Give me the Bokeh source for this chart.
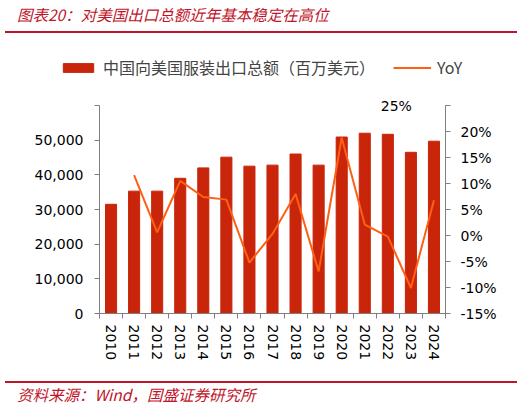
from bokeh.plotting import figure
from bokeh.layouts import column
from bokeh.models import (Range1d, LinearAxis, FixedTicker, NumeralTickFormatter,
                          PrintfTickFormatter, Legend, LegendItem, Label, Div)
from bokeh.embed import file_html
from bokeh.resources import INLINE

years = ["2010", "2011", "2012", "2013", "2014", "2015", "2016", "2017",
         "2018", "2019", "2020", "2021", "2022", "2023", "2024"]
# 中国向美国服装出口总额（百万美元）
export_total = [31500, 35300, 35300, 39000, 42000, 45100, 42500, 42800,
                46000, 42800, 50900, 52000, 51700, 46500, 49700]
# YoY (%), from 2011
yoy = [11.6, 0.6, 10.5, 7.4, 6.9, -5.2, 0.3, 8.0, -6.9, 18.8, 2.1, -0.2, -10.1, 6.8]

left_ticks = [0, 10000, 20000, 30000, 40000, 50000, 60000]
right_ticks = [-15, -10, -5, 0, 5, 10, 15, 20, 25]
bar_label = "中国向美国服装出口总额（百万美元）"
line_label = "YoY"

BAR = "#C8250A"
LINE = "#FF5F14"
RED = "#C0142A"
AXIS = "#7F7F7F"
FONT = "DejaVu Sans"
CJK = "Noto Sans CJK SC"

xs = list(range(len(years)))

# frame is a little taller than the axes so the "25%" label is not clipped
axis_px = 208
frame_px = 223
y_end = 60000 * frame_px / axis_px
r_end = -15 + 40 * frame_px / axis_px

p = figure(width=523, height=296, output_backend="svg", toolbar_location=None,
           x_range=Range1d(-0.5, len(years) - 0.5), y_range=Range1d(0, y_end),
           min_border_left=99, min_border_right=78, min_border_top=5,
           min_border_bottom=68)
p.frame_align = False
p.extra_y_ranges = {"yoy": Range1d(-15, r_end)}
p.outline_line_color = None
p.xgrid.grid_line_color = None
p.ygrid.grid_line_color = None

p.vbar(x=xs, top=export_total, width=0.48, color=BAR)
p.line(x=xs[1:], y=yoy, color=LINE, line_width=2, y_range_name="yoy")

# x axis: labels at centres, tick marks between categories
xa = p.xaxis[0]
xa.ticker = FixedTicker(ticks=xs, minor_ticks=[i - 0.5 for i in range(len(years) + 1)])
xa.major_label_overrides = {i: y for i, y in enumerate(years)}
xa.major_label_orientation = "vertical"
xa.major_tick_out = 0
xa.major_tick_in = 0
xa.minor_tick_out = 5
xa.minor_tick_in = 0

ya = p.yaxis[0]
ya.ticker = FixedTicker(ticks=left_ticks)
ya.formatter = NumeralTickFormatter(format="0,0")
ya.major_label_overrides = {60000: ""}
ya.bounds = (0, 60000)

ra = LinearAxis(y_range_name="yoy", ticker=FixedTicker(ticks=right_ticks),
                formatter=PrintfTickFormatter(format="%d%%"), bounds=(-15, 25))
ra.major_label_overrides = {25: ""}
p.add_layout(ra, "right")

for ax in [xa, ya, ra]:
    ax.axis_line_color = AXIS
    ax.major_tick_line_color = AXIS
    ax.minor_tick_line_color = AXIS
    ax.major_label_text_font = FONT
    ax.major_label_text_font_size = "14px"
    ax.major_label_text_color = "#000000"
    ax.major_label_standoff = 6
for ax in [ya, ra]:
    ax.major_tick_out = 5
    ax.major_tick_in = 0
    ax.minor_tick_out = 0
    ax.minor_tick_in = 0
ya.major_label_standoff = 11
ra.major_label_standoff = 10

p.add_layout(Label(x=12.37, y=25, y_range_name="yoy", text="25%", text_align="center",
                   text_baseline="middle", text_font=FONT, text_font_size="14px",
                   text_color="#000000"))

# legend in its own strip above the chart; its glyphs sit outside the strip's view
lg = figure(width=523, height=52, output_backend="svg", toolbar_location=None,
            x_range=Range1d(15, 30), y_range=Range1d(100000, 200000),
            x_axis_type=None, y_axis_type=None, min_border=0)
lg.frame_align = False
lg.outline_line_color = None
lg.xgrid.grid_line_color = None
lg.ygrid.grid_line_color = None
lb = lg.vbar(x=xs, top=export_total, width=0.48, color=BAR)
ll = lg.line(x=xs[1:], y=yoy, color=LINE, line_width=2)
legend = Legend(items=[LegendItem(label=bar_label, renderers=[lb]),
                       LegendItem(label=line_label, renderers=[ll])],
                orientation="horizontal", location=(59, 6),
                glyph_width=38, glyph_height=11, spacing=18, label_standoff=6,
                label_text_font=CJK, label_text_font_size="16px",
                border_line_color=None, background_fill_alpha=0,
                margin=0, padding=4)
lg.add_layout(legend, "center")

title = Div(text="图表20：对美国出口总额近年基本稳定在高位", width=512, height=33,
            margin=(0, 0, 0, 5),
            styles={"font-family": CJK, "font-style": "italic", "font-size": "15.5px",
                    "color": RED, "border-bottom": "2px solid " + RED,
                    "box-sizing": "border-box", "padding-left": "12px",
                    "padding-top": "4px", "line-height": "20px"})
footer = Div(text="资料来源：Wind，国盛证券研究所", width=512, height=25,
             margin=(0, 0, 0, 5),
             styles={"font-family": CJK, "font-style": "italic", "font-size": "15.5px",
                     "color": RED, "border-top": "2px solid " + RED,
                     "box-sizing": "border-box", "padding-left": "12px",
                     "line-height": "22px"})

page = column(title, lg, p, footer, spacing=0)
open("out.html", "w").write(file_html(page, INLINE))
